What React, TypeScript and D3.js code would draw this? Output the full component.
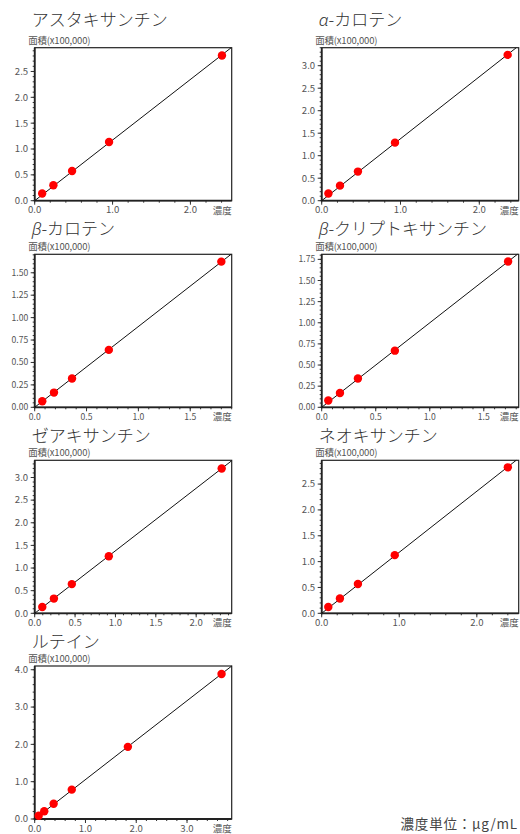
import * as d3 from 'd3'

// calibration curves — concentration (µg/mL) vs peak area (x100,000)
const titles = [
  'アスタキサンチン',
  'α-カロテン',
  'β-カロテン',
  'β-クリプトキサンチン',
  'ゼアキサンチン',
  'ネオキサンチン',
  'ルテイン',
]

const astaConc = [0.096, 0.24, 0.48, 0.955, 2.405]
const astaArea = [0.14, 0.3, 0.575, 1.135, 2.81]
const alphaConc = [0.085, 0.232, 0.46, 0.93, 2.36]
const alphaArea = [0.16, 0.335, 0.647, 1.29, 3.24]
const betaConc = [0.073, 0.186, 0.36, 0.715, 1.8]
const betaArea = [0.067, 0.164, 0.321, 0.64, 1.624]
const cryptoConc = [0.061, 0.169, 0.335, 0.677, 1.725]
const cryptoArea = [0.08, 0.17, 0.34, 0.67, 1.725]
const zeaConc = [0.094, 0.238, 0.46, 0.918, 2.316]
const zeaArea = [0.14, 0.325, 0.645, 1.26, 3.2]
const neoConc = [0.085, 0.235, 0.467, 0.942, 2.4]
const neoArea = [0.123, 0.285, 0.566, 1.125, 2.824]
const luteinConc = [0.078, 0.188, 0.373, 0.73, 1.835, 3.68]
const luteinArea = [0.089, 0.207, 0.41, 0.787, 1.933, 3.885]

const concSets = [astaConc, alphaConc, betaConc, cryptoConc, zeaConc, neoConc, luteinConc]
const areaSets = [astaArea, alphaArea, betaArea, cryptoArea, zeaArea, neoArea, luteinArea]

// axis extents and tick steps
const xMaxes = [2.53, 2.5, 1.9, 1.823, 2.44, 2.54, 3.88]
const yMaxes = [2.96, 3.4, 1.706, 1.81, 3.38, 2.96, 4.1]
const xMajorSteps = [1, 1, 0.5, 0.5, 0.5, 1, 1]
const xMinorSteps = [0.2, 0.2, 0.1, 0.1, 0.1, 0.2, 0.2]
const yMajorSteps = [0.5, 0.5, 0.25, 0.25, 0.5, 0.5, 1]
const yMinorSteps = [0.1, 0.1, 0.05, 0.05, 0.1, 0.1, 0.2]

const yLabel = '面積(x100,000)'
const xLabel = '濃度'
const unitNote = '濃度単位：μg/mL'

const FONT = "'Noto Sans CJK JP', 'Noto Sans', sans-serif"
const colX = [34.7, 321.7]
const rowTop = [47.7, 254.3, 460.3, 666]
const titleBase = [26, 235, 442, 648]
const boxW = 197
const boxH = 153

function stepTicks(max: number, step: number) {
  const out: number[] = []
  for (let i = 0; i * step <= max + 1e-9; i++) out.push(+(i * step).toFixed(4))
  return out
}

function Title({ text, x, y }: { text: string; x: number; y: number }) {
  const greek = /^[αβ]/.test(text)
  return (
    <text x={x} y={y} fontSize={17} fill="#333" fontFamily={FONT} fontWeight={300}>
      {greek ? (
        <>
          <tspan fontStyle="italic" fontFamily="'Noto Sans', 'DejaVu Sans', sans-serif" fontWeight={300}>
            {text[0]}
          </tspan>
          <tspan>{text.slice(1)}</tspan>
        </>
      ) : (
        text
      )}
    </text>
  )
}

function Panel({ index }: { index: number }) {
  const col = index % 2
  const row = Math.floor(index / 2)
  const left = colX[col]
  const top = rowTop[row]
  const right = left + boxW
  const bottom = top + boxH

  const x = d3.scaleLinear().domain([0, xMaxes[index]]).range([left, right])
  const y = d3.scaleLinear().domain([0, yMaxes[index]]).range([bottom, top])

  const conc = concSets[index]
  const area = areaSets[index]
  // least-squares line through the origin
  const slope = d3.sum(conc, (c, i) => c * area[i]) / d3.sum(conc, (c) => c * c)
  const xEnd = Math.min(xMaxes[index], yMaxes[index] / slope)
  const fit = d3.line<number>().x((v) => x(v)).y((v) => y(v * slope))([0, xEnd])

  const yDec = yMajorSteps[index] < 0.5 ? 2 : 1
  const yMajor = stepTicks(yMaxes[index], yMajorSteps[index])
  const yMinor = stepTicks(yMaxes[index], yMinorSteps[index])
  const xMajor = stepTicks(xMaxes[index], xMajorSteps[index])
  const xMinor = stepTicks(xMaxes[index], xMinorSteps[index])
  const tickSize = yDec === 2 ? 8.6 : 9.6

  return (
    <g fontFamily={FONT}>
      <Title text={titles[index]} x={left - 3} y={titleBase[row]} />
      <text x={left - 6.5} y={top - 4} fontSize={9.5} fill="#555" letterSpacing={-0.2}>
        {yLabel}
      </text>

      <rect x={left} y={top} width={boxW} height={boxH} fill="#fff" stroke="#222" strokeWidth={1.2} />

      {yMinor.map((v) => (
        <line key={`ym${v}`} x1={left - 2} x2={left} y1={y(v)} y2={y(v)} stroke="#333" strokeWidth={1} />
      ))}
      {yMajor.map((v) => (
        <g key={`y${v}`}>
          <line x1={left - 4} x2={left} y1={y(v)} y2={y(v)} stroke="#333" strokeWidth={1} />
          <text x={left - 6.5} y={y(v)} dy="0.35em" textAnchor="end" fontSize={tickSize} fill="#555">
            {v.toFixed(yDec)}
          </text>
        </g>
      ))}

      {xMinor.map((v) => (
        <line key={`xm${v}`} x1={x(v)} x2={x(v)} y1={bottom} y2={bottom + 2} stroke="#333" strokeWidth={1} />
      ))}
      {xMajor.map((v) => (
        <g key={`x${v}`}>
          <line x1={x(v)} x2={x(v)} y1={bottom} y2={bottom + 4} stroke="#333" strokeWidth={1} />
          <text x={x(v)} y={bottom + 12.5} textAnchor="middle" fontSize={tickSize} fill="#555">
            {v.toFixed(1)}
          </text>
        </g>
      ))}
      <text x={right} y={bottom + 13} textAnchor="end" fontSize={9.5} fill="#555">
        {xLabel}
      </text>

      <line x1={left} x2={left} y1={top} y2={bottom} stroke="#222" strokeWidth={1.8} />
      <line x1={left} x2={right} y1={bottom} y2={bottom} stroke="#222" strokeWidth={1.8} />

      <path d={fit ?? ''} fill="none" stroke="#111" strokeWidth={1} />

      {conc.map((c, i) => (
        <circle key={i} cx={x(c)} cy={y(area[i])} r={4.2} fill="#ff0000" />
      ))}
    </g>
  )
}

export default function App() {
  return (
    <div style={{ position: 'absolute', left: 0, top: 0 }}>
      <svg width={520} height={834} style={{ display: 'block' }}>
        <rect width={520} height={834} fill="#fff" />
        {titles.map((_, i) => (
          <Panel key={i} index={i} />
        ))}
        <text
          x={518}
          y={829}
          textAnchor="end"
          fontSize={13.5}
          letterSpacing={0.8}
          fill="#444"
          fontFamily={FONT}
        >
          {unitNote}
        </text>
      </svg>
    </div>
  )
}
